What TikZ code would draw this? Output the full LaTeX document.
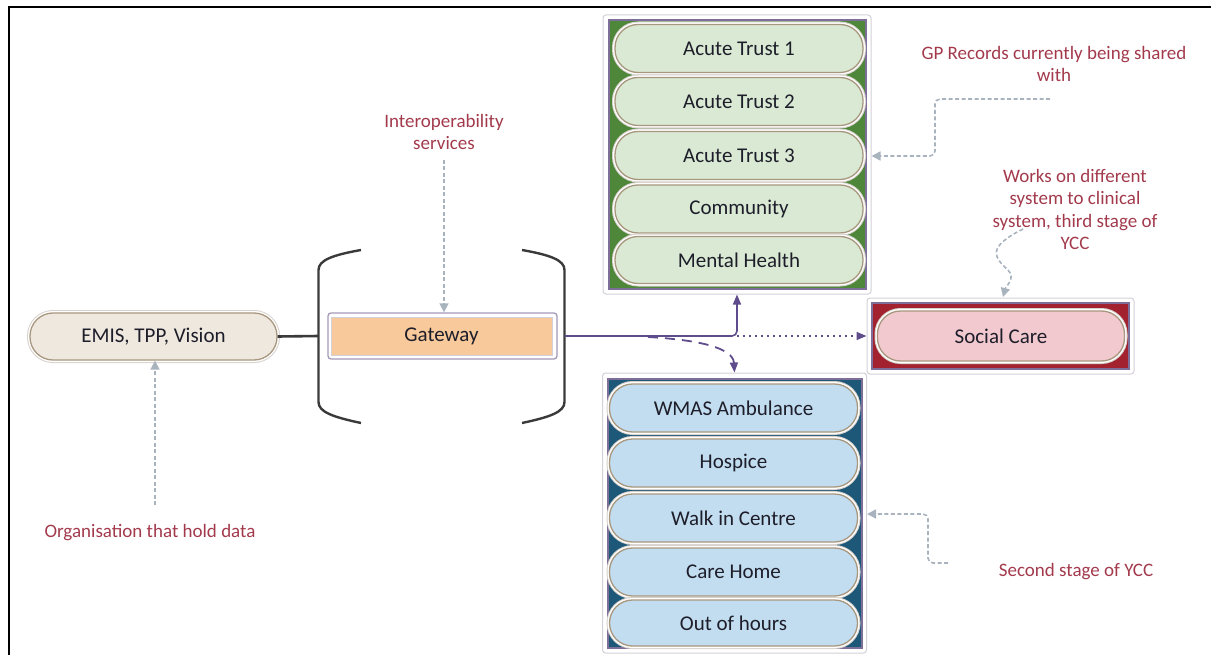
\documentclass[tikz,border=0pt]{standalone}
\usepackage{fontspec}
\setmainfont{Carlito}
\usetikzlibrary{arrows.meta}
\definecolor{ann}{HTML}{A23A4C}
\definecolor{pillline}{HTML}{A8977F}
\definecolor{ringgray}{HTML}{D6D1CB}
\definecolor{frameln}{HTML}{7D6E9A}
\definecolor{framegray}{HTML}{D3D0D8}
\definecolor{gbg}{HTML}{4F873A}
\definecolor{gpill}{HTML}{D9E9D3}
\definecolor{bbg}{HTML}{1E5879}
\definecolor{bpill}{HTML}{C2DDF0}
\definecolor{rbg}{HTML}{A2232F}
\definecolor{rpill}{HTML}{F2C9CF}
\definecolor{emisfill}{HTML}{EFE8DF}
\definecolor{gwfill}{HTML}{F8C99B}
\definecolor{conn}{HTML}{5F4C8C}
\definecolor{garrow}{HTML}{A9B3BE}
\definecolor{txt}{HTML}{1E1E2A}
\definecolor{brk}{HTML}{3A3A3A}
\tikzset{
  pillbox/.style={rectangle, rounded corners=23pt, minimum width=248pt, minimum height=48pt,
    inner sep=0pt, draw=pillline, line width=1.3pt,
    preaction={draw=ringgray, line width=6pt},
    preaction={draw=white, line width=4pt},
    font=\fontsize{21}{24}\selectfont, text=txt},
  frameout/.style={rectangle, draw=framegray, line width=1pt, rounded corners=3pt, fill=white, inner sep=0pt},
  framein/.style={rectangle, draw=frameln, line width=1.2pt, inner sep=0pt},
  annot/.style={text=ann, align=center, font=\fontsize{19}{22.5}\selectfont},
  connarrow/.style={draw=conn, line width=1.6pt, -{Triangle[length=10pt,width=8pt]}},
  grayarrow/.style={draw=garrow, line width=1.6pt, dash pattern=on 4pt off 2.5pt, -{Triangle[length=9pt,width=9pt]}}
}
\begin{document}
\begin{tikzpicture}[x=1pt,y=-1pt]
\useasboundingbox (0,0) rectangle (1215,655);
% outer border (cropped)
\draw[line width=2pt, black] (8.5,655) -- (8.5,7) -- (1211,7);

% green container
\node[frameout, minimum width=268pt, minimum height=279pt] (gf) at (737,154.5) {};
\node[framein, fill=gbg, minimum width=257pt, minimum height=269pt] (gbgn) at (737.5,154.5) {};
\node[pillbox, fill=gpill] (a1) at (739,48.5) {Acute Trust 1};
\node[pillbox, fill=gpill] (a2) at (739,101.5) {Acute Trust 2};
\node[pillbox, fill=gpill] (a3) at (739,155.5) {Acute Trust 3};
\node[pillbox, fill=gpill] (a4) at (739,209) {Community};
\node[pillbox, fill=gpill, minimum height=47pt] (a5) at (739,260) {Mental Health};

% blue container
\node[frameout, minimum width=264pt, minimum height=280pt] (bf) at (734.5,513) {};
\node[framein, fill=bbg, minimum width=254pt, minimum height=269pt] (bbgn) at (735,513.5) {};
\node[pillbox, fill=bpill] (b1) at (733.5,408) {WMAS Ambulance};
\node[pillbox, fill=bpill] (b2) at (733.5,463) {Hospice};
\node[pillbox, fill=bpill] (b3) at (733.5,518) {Walk in Centre};
\node[pillbox, fill=bpill] (b4) at (733.5,572) {Care Home};
\node[pillbox, fill=bpill, minimum height=46pt] (b5) at (733.5,623) {Out of hours};

% social care
\node[frameout, minimum width=267pt, minimum height=76pt] (scf) at (1000.5,336) {};
\node[framein, fill=rbg, minimum width=257pt, minimum height=66pt] (scbg) at (1000.5,336) {};
\node[pillbox, fill=rpill, minimum height=50pt, minimum width=247pt] (sc) at (1001,336) {Social Care};

% EMIS
\node[pillbox, fill=emisfill, minimum width=247pt, minimum height=47pt] (emis) at (153.5,336.5) {EMIS, TPP, Vision};

% Gateway
\node[frameout, minimum width=229pt, minimum height=46pt, draw=frameln!70, line width=1.3pt] (gwf) at (442.5,336) {};
\node[rectangle, fill=gwfill, draw=framegray, line width=0.8pt, minimum width=221pt, minimum height=38pt,
      font=\fontsize{21}{24}\selectfont, text=txt] (gw) at (441.5,336) {Gateway};

% brackets
\coordinate (lb) at (318.5,336);
\coordinate (rb) at (564.5,336);
\draw[brk, line width=2.4pt] (361,250) .. controls (333,255) and (318.5,260) .. (318.5,270)
   -- (318.5,402) .. controls (318.5,412) and (333,417) .. (361,423);
\draw[brk, line width=2.4pt] (522,250) .. controls (550,255) and (564.5,260) .. (564.5,270)
   -- (564.5,402) .. controls (564.5,412) and (550,417) .. (522,423);
\draw[brk, line width=2.6pt] (emis.east) -- (lb);

% purple connectors
\coordinate (dstart) at (648,337);
\draw[connarrow, rounded corners=5pt] (rb) -| (gf.south);
\draw[conn, line width=1.6pt, dash pattern=on 1.6pt off 4.4pt, -{Triangle[length=10pt,width=8pt]}]
   (gf.south |- rb) -- (scf.west);
\draw[conn, line width=1.8pt, dash pattern=on 10pt off 7pt, -{Triangle[length=10pt,width=8pt]}]
   (dstart) .. controls (700,340) and (733,348) .. (bf.north);

% annotations
\node[annot] (tint) at (444,132) {Interoperability\\services};
\node[annot] (tgp) at (1054,64) {GP Records currently being shared\\with};
\node[annot] (twk) at (1075,209.5) {Works on different\\system to clinical\\system, third stage of\\YCC};
\node[annot] (tsec) at (1076,572) {Second stage of YCC};
\node[annot] (torg) at (150,533) {Organisation that hold data};

% gray annotation arrows
\coordinate (ia) at (444,160);
\draw[grayarrow] (ia) -- (ia |- gwf.north);
\coordinate (oa) at (155,505);
\draw[grayarrow] (oa) -- (oa |- emis.south);
\coordinate (gp0) at (1050,99);
\coordinate (gp1) at (935,99);
\coordinate (gp2) at (935,156);
\draw[grayarrow, rounded corners=5pt] (gp0) -- (gp1) -- (gp2) -- (gf.east |- gp2);
\coordinate (s0) at (948,563);
\coordinate (s1) at (928,563);
\coordinate (s2) at (928,514);
\draw[grayarrow, rounded corners=5pt] (s0) -- (s1) -- (s2) -- (bf.east |- s2);
\coordinate (w0) at (1023,229);
\coordinate (w1) at (1003,297);
\draw[grayarrow] (w0) .. controls (985,248) and (995,258) .. (1008,270) .. controls (1016,278) and (1006,286) .. (w1);
\end{tikzpicture}
\end{document}
